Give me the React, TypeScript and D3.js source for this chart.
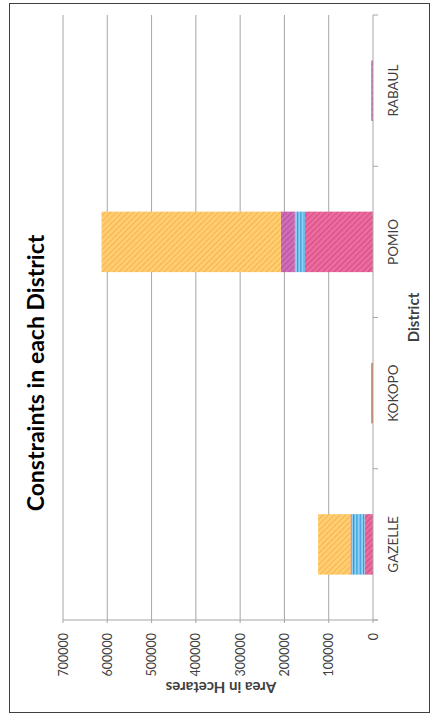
import React from "react";
import * as d3 from "d3";

const categories = ["GAZELLE", "KOKOPO", "POMIO", "RABAUL"];
// stack order from the baseline outward
const seriesPink = [19000, 0, 154000, 0];
const seriesBlue = [29000, 0, 22500, 0];
const seriesPurple = [0, 0, 31500, 4000];
const seriesBrown = [3000, 4000, 0, 0];
const seriesOrange = [73000, 0, 405000, 0];
const valueTicks = [0, 100000, 200000, 300000, 400000, 500000, 600000, 700000];

const seriesList = [
  { key: "pink", values: seriesPink, fill: "url(#pPink)" },
  { key: "blue", values: seriesBlue, fill: "url(#pBlue)" },
  { key: "purple", values: seriesPurple, fill: "url(#pPurple)" },
  { key: "brown", values: seriesBrown, fill: "#D77A52" },
  { key: "orange", values: seriesOrange, fill: "url(#pOrange)" },
];

export default function App() {
  const W = 432, H = 721;
  const x0 = 373, x1 = 63, yTop = 15, yBot = 620;
  const x = d3.scaleLinear().domain([0, 700000]).range([x0, x1]);
  const y = d3.scaleBand().domain(categories).range([yBot, yTop]).paddingInner(0.6).paddingOuter(0.3);

  const rows = categories.map((c, i) => {
    const r: any = { cat: c };
    seriesList.forEach((s) => (r[s.key] = s.values[i]));
    return r;
  });
  const stacked = d3.stack().keys(seriesList.map((s) => s.key))(rows);

  const step = y.step();
  const catBounds = d3.range(categories.length + 1).map((i) => yBot - i * step);
  const font = "Lato, 'Open Sans', sans-serif";

  return (
    <svg width={W} height={H} style={{ position: "absolute", left: 0, top: 0, background: "#fff" }}>
      <defs>
        <pattern id="pOrange" patternUnits="userSpaceOnUse" width={4} height={4} patternTransform="rotate(45)">
          <rect width={4} height={4} fill="#FFCE72" />
          <line x1={0} y1={0} x2={0} y2={4} stroke="#F5AC42" strokeWidth={1.6} />
        </pattern>
        <pattern id="pPink" patternUnits="userSpaceOnUse" width={4} height={4} patternTransform="rotate(45)">
          <rect width={4} height={4} fill="#EA6C9E" />
          <line x1={0} y1={0} x2={0} y2={4} stroke="#D2427C" strokeWidth={1.6} />
        </pattern>
        <pattern id="pPurple" patternUnits="userSpaceOnUse" width={4} height={4} patternTransform="rotate(45)">
          <rect width={4} height={4} fill="#CF6DB6" />
          <line x1={0} y1={0} x2={0} y2={4} stroke="#B2489A" strokeWidth={1.6} />
        </pattern>
        <pattern id="pBlue" patternUnits="userSpaceOnUse" width={3.3} height={10}>
          <rect width={3.3} height={10} fill="#8DD2F5" />
          <line x1={0.6} y1={0} x2={0.6} y2={10} stroke="#2F92D6" strokeWidth={1.1} />
        </pattern>
      </defs>

      {/* outer border */}
      <rect x={9.5} y={3.5} width={420} height={709} fill="none" stroke="#404040" strokeWidth={1} />

      {/* gridlines */}
      {valueTicks.filter((v) => v > 0).map((v) => (
        <line key={"g" + v} x1={x(v)} x2={x(v)} y1={yTop} y2={yBot + 3} stroke="#A6A6A6" strokeWidth={1} />
      ))}

      {/* bars */}
      {stacked.map((layer, li) => (
        <g key={layer.key}>
          {layer.map((d, i) => {
            const w = x(d[0]) - x(d[1]);
            if (w <= 0) return null;
            return (
              <rect
                key={i}
                x={x(d[1])}
                y={y(categories[i])}
                width={w}
                height={y.bandwidth()}
                fill={seriesList[li].fill}
              />
            );
          })}
        </g>
      ))}

      {/* value axis line */}
      <line x1={x1} x2={x0 + 5} y1={yBot} y2={yBot} stroke="#A6A6A6" strokeWidth={1} />
      {/* category axis line */}
      <line x1={x0} x2={x0} y1={yTop} y2={yBot + 3} stroke="#A6A6A6" strokeWidth={1} />
      {catBounds.map((b, i) => (
        <line key={"ct" + i} x1={x0} x2={x0 + 5} y1={b} y2={b} stroke="#A6A6A6" strokeWidth={1} />
      ))}

      {/* value tick labels */}
      {valueTicks.map((v) => (
        <text
          key={"t" + v}
          transform={`translate(${x(v)},${yBot + 13}) rotate(-90)`}
          textAnchor="end"
          dominantBaseline="central"
          fontFamily={font}
          fontSize={12.5}
          fill="#404040"
        >
          {v}
        </text>
      ))}

      {/* category labels */}
      {categories.map((c) => (
        <text
          key={c}
          transform={`translate(${x0 + 20},${(y(c) as number) + y.bandwidth() / 2}) rotate(-90)`}
          textAnchor="middle"
          dominantBaseline="central"
          fontFamily={font}
          fontSize={13.5}
          fill="#404040"
        >
          {c}
        </text>
      ))}

      {/* axis titles */}
      <text
        transform={`translate(413,${(yTop + yBot) / 2}) rotate(-90)`}
        textAnchor="middle"
        dominantBaseline="central"
        fontFamily={font}
        fontSize={15}
        fontWeight="bold"
        fill="#404040"
      >
        District
      </text>
      <text
        transform={`translate(${(x0 + x1) / 2 + 3},688) rotate(180)`}
        textAnchor="middle"
        dominantBaseline="central"
        fontFamily={font}
        fontSize={15}
        fontWeight="bold"
        fill="#404040"
      >
        Area in Hcetares
      </text>

      {/* title */}
      <text
        transform={`translate(35,373) rotate(-90)`}
        textAnchor="middle"
        dominantBaseline="central"
        fontFamily={font}
        fontSize={23}
        fontWeight="bold"
        fill="#000"
      >
        Constraints in each District
      </text>
    </svg>
  );
}
